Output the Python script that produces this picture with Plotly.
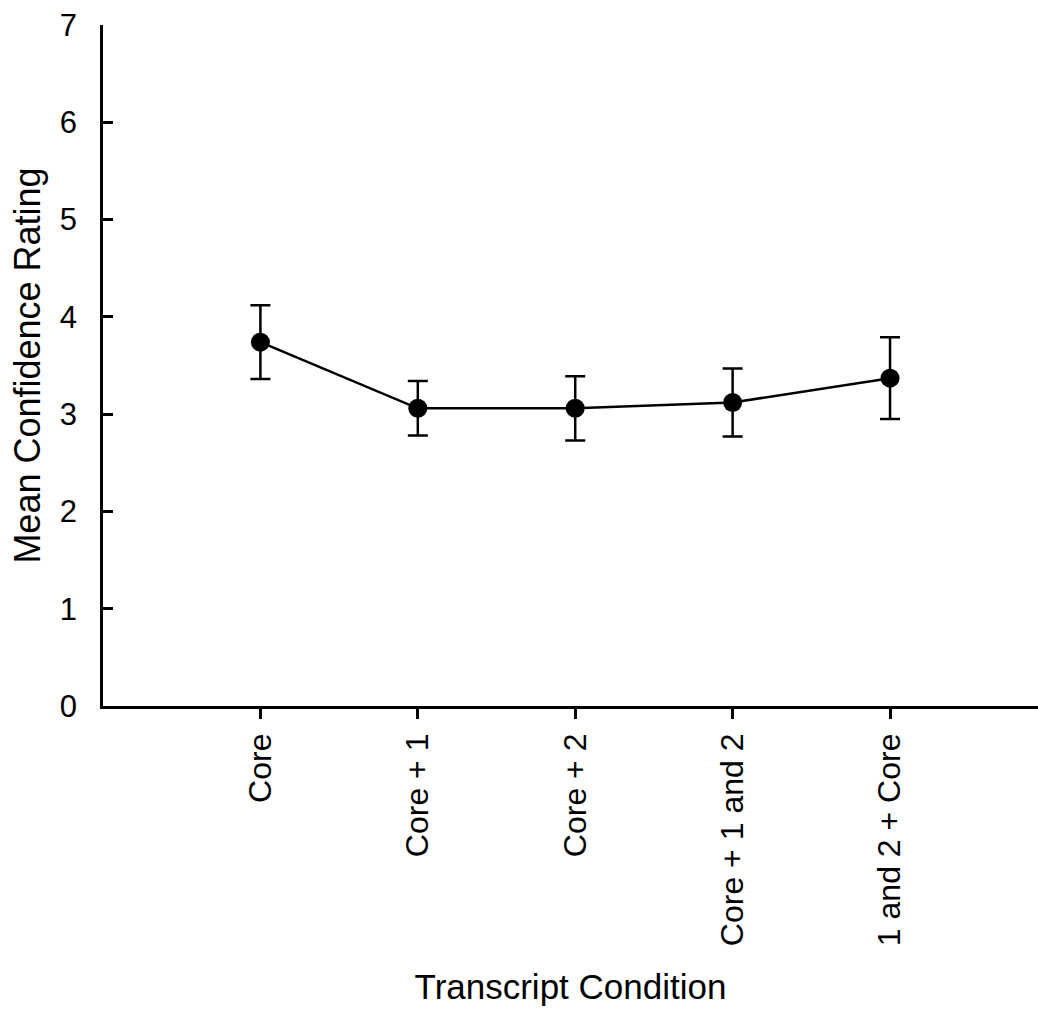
import plotly.graph_objects as go

conditions = ["Core", "Core + 1", "Core + 2", "Core + 1 and 2", "1 and 2 + Core"]
mean_rating = [3.74, 3.06, 3.06, 3.12, 3.37]
error = [0.38, 0.28, 0.33, 0.35, 0.42]
y_ticks = [0, 1, 2, 3, 4, 5, 6, 7]

FONT = "Liberation Sans, Arial, sans-serif"

fig = go.Figure(
    go.Scatter(
        x=conditions,
        y=mean_rating,
        mode="lines+markers",
        line=dict(color="black", width=2.5),
        marker=dict(color="black", size=19),
        error_y=dict(type="data", array=error, color="black", thickness=2.5, width=10),
        showlegend=False,
    )
)

fig.update_layout(
    width=1038,
    height=1010,
    margin=dict(l=103, r=0, t=25, b=304),
    paper_bgcolor="white",
    plot_bgcolor="white",
    font=dict(family=FONT, color="black"),
)

fig.update_xaxes(
    type="category",
    range=[-1.0, 4.94],
    showline=True,
    linecolor="black",
    linewidth=2.5,
    ticks="outside",
    ticklen=10,
    tickwidth=2.5,
    tickcolor="black",
    tickangle=-90,
    tickfont=dict(size=32),
    ticklabelstandoff=2,
    showgrid=False,
    zeroline=False,
    title=dict(text="Transcript Condition", font=dict(size=35), standoff=30),
)

fig.update_yaxes(
    range=[0, 7],
    tickvals=y_ticks,
    showline=True,
    linecolor="black",
    linewidth=2.5,
    ticks="inside",
    ticklen=10,
    tickwidth=2.5,
    tickcolor="black",
    tickfont=dict(size=31),
    ticklabelstandoff=17,
    showgrid=False,
    zeroline=False,
    title=dict(text="Mean Confidence Rating", font=dict(size=36), standoff=9),
)

fig.write_html("out.html")
